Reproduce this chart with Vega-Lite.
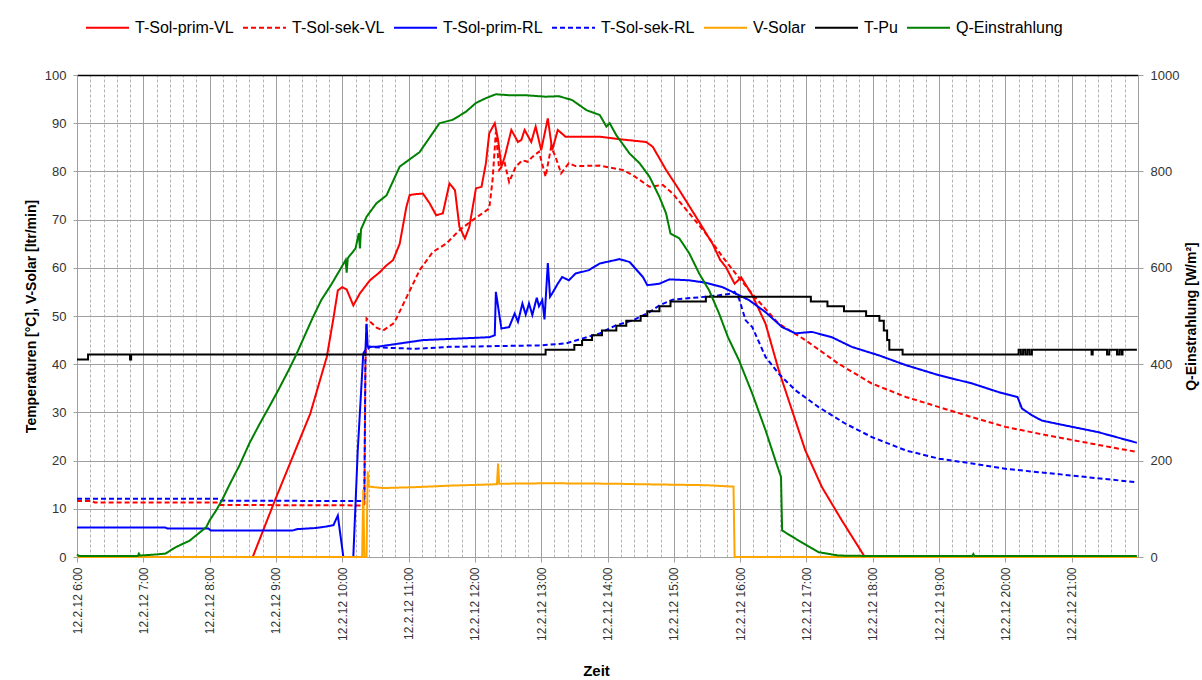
{
"$schema":"https://vega.github.io/schema/vega-lite/v6.json",
"width":1061,"height":482,
"autosize":{"type":"none"},
"padding":{"left":77,"top":75,"right":64,"bottom":123},
"background":"white",
"config":{"font":"Liberation Sans","view":{"stroke":"#A0A0A0"},"axis":{"labelFont":"Liberation Sans","titleFont":"Liberation Sans","labelColor":"#333","titleColor":"#000"}},
"layer":[
{"data":{"values":[
{"s":"T-Sol-prim-VL","t":"2012-02-12T08:39","v":0},{"s":"T-Sol-prim-VL","t":"2012-02-12T08:59","v":11.7},{"s":"T-Sol-prim-VL","t":"2012-02-12T09:15","v":20.7},{"s":"T-Sol-prim-VL","t":"2012-02-12T09:31","v":29.7},{"s":"T-Sol-prim-VL","t":"2012-02-12T09:46","v":41.5},{"s":"T-Sol-prim-VL","t":"2012-02-12T09:52","v":49.5},{"s":"T-Sol-prim-VL","t":"2012-02-12T09:56","v":55.3},{"s":"T-Sol-prim-VL","t":"2012-02-12T10:00","v":56},{"s":"T-Sol-prim-VL","t":"2012-02-12T10:04","v":55.5},{"s":"T-Sol-prim-VL","t":"2012-02-12T10:10","v":52.2},{"s":"T-Sol-prim-VL","t":"2012-02-12T10:16","v":54.7},{"s":"T-Sol-prim-VL","t":"2012-02-12T10:25","v":57.4},{"s":"T-Sol-prim-VL","t":"2012-02-12T10:34","v":59.1},{"s":"T-Sol-prim-VL","t":"2012-02-12T10:40","v":60.5},{"s":"T-Sol-prim-VL","t":"2012-02-12T10:46","v":61.6},{"s":"T-Sol-prim-VL","t":"2012-02-12T10:52","v":65},{"s":"T-Sol-prim-VL","t":"2012-02-12T10:58","v":72.6},{"s":"T-Sol-prim-VL","t":"2012-02-12T11:01","v":75.1},{"s":"T-Sol-prim-VL","t":"2012-02-12T11:07","v":75.3},{"s":"T-Sol-prim-VL","t":"2012-02-12T11:13","v":75.4},{"s":"T-Sol-prim-VL","t":"2012-02-12T11:19","v":73.4},{"s":"T-Sol-prim-VL","t":"2012-02-12T11:25","v":70.9},{"s":"T-Sol-prim-VL","t":"2012-02-12T11:31","v":71.3},{"s":"T-Sol-prim-VL","t":"2012-02-12T11:37","v":77.5},{"s":"T-Sol-prim-VL","t":"2012-02-12T11:42","v":76.1},{"s":"T-Sol-prim-VL","t":"2012-02-12T11:46","v":68.5},{"s":"T-Sol-prim-VL","t":"2012-02-12T11:51","v":66.1},{"s":"T-Sol-prim-VL","t":"2012-02-12T11:55","v":68.5},{"s":"T-Sol-prim-VL","t":"2012-02-12T12:01","v":76.5},{"s":"T-Sol-prim-VL","t":"2012-02-12T12:06","v":76.8},{"s":"T-Sol-prim-VL","t":"2012-02-12T12:10","v":81.7},{"s":"T-Sol-prim-VL","t":"2012-02-12T12:13","v":87.9},{"s":"T-Sol-prim-VL","t":"2012-02-12T12:18","v":90},{"s":"T-Sol-prim-VL","t":"2012-02-12T12:21","v":86.5},{"s":"T-Sol-prim-VL","t":"2012-02-12T12:24","v":81},{"s":"T-Sol-prim-VL","t":"2012-02-12T12:27","v":83},{"s":"T-Sol-prim-VL","t":"2012-02-12T12:33","v":88.6},{"s":"T-Sol-prim-VL","t":"2012-02-12T12:39","v":86.1},{"s":"T-Sol-prim-VL","t":"2012-02-12T12:42","v":86.5},{"s":"T-Sol-prim-VL","t":"2012-02-12T12:45","v":88.6},{"s":"T-Sol-prim-VL","t":"2012-02-12T12:51","v":86.1},{"s":"T-Sol-prim-VL","t":"2012-02-12T12:55","v":89.3},{"s":"T-Sol-prim-VL","t":"2012-02-12T13:00","v":84.4},{"s":"T-Sol-prim-VL","t":"2012-02-12T13:06","v":91},{"s":"T-Sol-prim-VL","t":"2012-02-12T13:10","v":84.4},{"s":"T-Sol-prim-VL","t":"2012-02-12T13:15","v":88.6},{"s":"T-Sol-prim-VL","t":"2012-02-12T13:22","v":87.2},{"s":"T-Sol-prim-VL","t":"2012-02-12T13:31","v":87.2},{"s":"T-Sol-prim-VL","t":"2012-02-12T13:53","v":87.2},{"s":"T-Sol-prim-VL","t":"2012-02-12T14:14","v":86.6},{"s":"T-Sol-prim-VL","t":"2012-02-12T14:35","v":86.1},{"s":"T-Sol-prim-VL","t":"2012-02-12T14:41","v":85.1},{"s":"T-Sol-prim-VL","t":"2012-02-12T14:53","v":80.3},{"s":"T-Sol-prim-VL","t":"2012-02-12T15:05","v":76.1},{"s":"T-Sol-prim-VL","t":"2012-02-12T15:20","v":70.6},{"s":"T-Sol-prim-VL","t":"2012-02-12T15:35","v":65},{"s":"T-Sol-prim-VL","t":"2012-02-12T15:42","v":61.6},{"s":"T-Sol-prim-VL","t":"2012-02-12T15:47","v":60.2},{"s":"T-Sol-prim-VL","t":"2012-02-12T15:55","v":56.7},{"s":"T-Sol-prim-VL","t":"2012-02-12T16:01","v":58},{"s":"T-Sol-prim-VL","t":"2012-02-12T16:11","v":54.3},{"s":"T-Sol-prim-VL","t":"2012-02-12T16:23","v":48.4},{"s":"T-Sol-prim-VL","t":"2012-02-12T16:35","v":38.7},{"s":"T-Sol-prim-VL","t":"2012-02-12T16:47","v":30.4},{"s":"T-Sol-prim-VL","t":"2012-02-12T16:59","v":22.1},{"s":"T-Sol-prim-VL","t":"2012-02-12T17:14","v":14.5},{"s":"T-Sol-prim-VL","t":"2012-02-12T17:32","v":7.6},{"s":"T-Sol-prim-VL","t":"2012-02-12T17:52","v":0.3},
{"s":"T-Sol-sek-VL","t":"2012-02-12T06:00","v":11.6},{"s":"T-Sol-sek-VL","t":"2012-02-12T06:14","v":11.6},{"s":"T-Sol-sek-VL","t":"2012-02-12T06:16","v":11.3},{"s":"T-Sol-sek-VL","t":"2012-02-12T08:08","v":11.3},{"s":"T-Sol-sek-VL","t":"2012-02-12T08:10","v":10.8},{"s":"T-Sol-sek-VL","t":"2012-02-12T10:19","v":10.7},{"s":"T-Sol-sek-VL","t":"2012-02-12T10:20","v":11},{"s":"T-Sol-sek-VL","t":"2012-02-12T10:21","v":40},{"s":"T-Sol-sek-VL","t":"2012-02-12T10:22","v":49.5},{"s":"T-Sol-sek-VL","t":"2012-02-12T10:31","v":47.6},{"s":"T-Sol-sek-VL","t":"2012-02-12T10:37","v":47},{"s":"T-Sol-sek-VL","t":"2012-02-12T10:46","v":48.4},{"s":"T-Sol-sek-VL","t":"2012-02-12T10:49","v":49.5},{"s":"T-Sol-sek-VL","t":"2012-02-12T10:58","v":53.8},{"s":"T-Sol-sek-VL","t":"2012-02-12T11:10","v":59.5},{"s":"T-Sol-sek-VL","t":"2012-02-12T11:22","v":63.3},{"s":"T-Sol-sek-VL","t":"2012-02-12T11:34","v":65},{"s":"T-Sol-sek-VL","t":"2012-02-12T11:46","v":67.8},{"s":"T-Sol-sek-VL","t":"2012-02-12T11:58","v":69.9},{"s":"T-Sol-sek-VL","t":"2012-02-12T12:13","v":72.3},{"s":"T-Sol-sek-VL","t":"2012-02-12T12:16","v":78.2},{"s":"T-Sol-sek-VL","t":"2012-02-12T12:19","v":88.2},{"s":"T-Sol-sek-VL","t":"2012-02-12T12:22","v":80.3},{"s":"T-Sol-sek-VL","t":"2012-02-12T12:27","v":81.7},{"s":"T-Sol-sek-VL","t":"2012-02-12T12:31","v":77.8},{"s":"T-Sol-sek-VL","t":"2012-02-12T12:37","v":81},{"s":"T-Sol-sek-VL","t":"2012-02-12T12:43","v":82.3},{"s":"T-Sol-sek-VL","t":"2012-02-12T12:48","v":82},{"s":"T-Sol-sek-VL","t":"2012-02-12T12:52","v":83},{"s":"T-Sol-sek-VL","t":"2012-02-12T12:58","v":84.1},{"s":"T-Sol-sek-VL","t":"2012-02-12T13:04","v":78.9},{"s":"T-Sol-sek-VL","t":"2012-02-12T13:09","v":85.1},{"s":"T-Sol-sek-VL","t":"2012-02-12T13:13","v":83},{"s":"T-Sol-sek-VL","t":"2012-02-12T13:18","v":79.6},{"s":"T-Sol-sek-VL","t":"2012-02-12T13:25","v":81.7},{"s":"T-Sol-sek-VL","t":"2012-02-12T13:31","v":81.1},{"s":"T-Sol-sek-VL","t":"2012-02-12T13:53","v":81.2},{"s":"T-Sol-sek-VL","t":"2012-02-12T14:14","v":80.3},{"s":"T-Sol-sek-VL","t":"2012-02-12T14:23","v":79.2},{"s":"T-Sol-sek-VL","t":"2012-02-12T14:38","v":76.8},{"s":"T-Sol-sek-VL","t":"2012-02-12T14:50","v":77.2},{"s":"T-Sol-sek-VL","t":"2012-02-12T14:59","v":75.4},{"s":"T-Sol-sek-VL","t":"2012-02-12T15:14","v":71.3},{"s":"T-Sol-sek-VL","t":"2012-02-12T15:29","v":67.1},{"s":"T-Sol-sek-VL","t":"2012-02-12T15:44","v":62.3},{"s":"T-Sol-sek-VL","t":"2012-02-12T15:56","v":58.8},{"s":"T-Sol-sek-VL","t":"2012-02-12T16:13","v":54},{"s":"T-Sol-sek-VL","t":"2012-02-12T16:35","v":48.4},{"s":"T-Sol-sek-VL","t":"2012-02-12T16:59","v":45},{"s":"T-Sol-sek-VL","t":"2012-02-12T17:29","v":40.1},{"s":"T-Sol-sek-VL","t":"2012-02-12T17:59","v":36},{"s":"T-Sol-sek-VL","t":"2012-02-12T18:30","v":33.2},{"s":"T-Sol-sek-VL","t":"2012-02-12T19:00","v":31.1},{"s":"T-Sol-sek-VL","t":"2012-02-12T19:30","v":29},{"s":"T-Sol-sek-VL","t":"2012-02-12T20:00","v":27},{"s":"T-Sol-sek-VL","t":"2012-02-12T20:30","v":25.6},{"s":"T-Sol-sek-VL","t":"2012-02-12T21:00","v":24.3},{"s":"T-Sol-sek-VL","t":"2012-02-12T21:30","v":23},{"s":"T-Sol-sek-VL","t":"2012-02-12T21:59","v":21.8},
{"s":"T-Sol-prim-RL","t":"2012-02-12T06:00","v":6.1},{"s":"T-Sol-prim-RL","t":"2012-02-12T07:20","v":6.1},{"s":"T-Sol-prim-RL","t":"2012-02-12T07:22","v":5.9},{"s":"T-Sol-prim-RL","t":"2012-02-12T07:59","v":5.9},{"s":"T-Sol-prim-RL","t":"2012-02-12T08:01","v":5.5},{"s":"T-Sol-prim-RL","t":"2012-02-12T09:15","v":5.5},{"s":"T-Sol-prim-RL","t":"2012-02-12T09:20","v":5.8},{"s":"T-Sol-prim-RL","t":"2012-02-12T09:35","v":6},{"s":"T-Sol-prim-RL","t":"2012-02-12T09:45","v":6.3},{"s":"T-Sol-prim-RL","t":"2012-02-12T09:52","v":6.6},{"s":"T-Sol-prim-RL","t":"2012-02-12T09:56","v":8.6},{"s":"T-Sol-prim-RL","t":"2012-02-12T10:01","v":0},{"s":"T-Sol-prim-RL","t":"2012-02-12T10:10","v":0},{"s":"T-Sol-prim-RL","t":"2012-02-12T10:14","v":22},{"s":"T-Sol-prim-RL","t":"2012-02-12T10:19","v":42.2},{"s":"T-Sol-prim-RL","t":"2012-02-12T10:21","v":43},{"s":"T-Sol-prim-RL","t":"2012-02-12T10:22","v":48.4},{"s":"T-Sol-prim-RL","t":"2012-02-12T10:23","v":43.6},{"s":"T-Sol-prim-RL","t":"2012-02-12T10:31","v":43.6},{"s":"T-Sol-prim-RL","t":"2012-02-12T10:52","v":44.3},{"s":"T-Sol-prim-RL","t":"2012-02-12T11:13","v":45},{"s":"T-Sol-prim-RL","t":"2012-02-12T11:43","v":45.3},{"s":"T-Sol-prim-RL","t":"2012-02-12T12:13","v":45.6},{"s":"T-Sol-prim-RL","t":"2012-02-12T12:18","v":46},{"s":"T-Sol-prim-RL","t":"2012-02-12T12:19","v":55},{"s":"T-Sol-prim-RL","t":"2012-02-12T12:24","v":47.4},{"s":"T-Sol-prim-RL","t":"2012-02-12T12:31","v":47.7},{"s":"T-Sol-prim-RL","t":"2012-02-12T12:36","v":50.5},{"s":"T-Sol-prim-RL","t":"2012-02-12T12:39","v":48.8},{"s":"T-Sol-prim-RL","t":"2012-02-12T12:43","v":52.6},{"s":"T-Sol-prim-RL","t":"2012-02-12T12:46","v":50.3},{"s":"T-Sol-prim-RL","t":"2012-02-12T12:49","v":52.6},{"s":"T-Sol-prim-RL","t":"2012-02-12T12:52","v":50.2},{"s":"T-Sol-prim-RL","t":"2012-02-12T12:56","v":53.8},{"s":"T-Sol-prim-RL","t":"2012-02-12T12:58","v":52},{"s":"T-Sol-prim-RL","t":"2012-02-12T13:01","v":53.3},{"s":"T-Sol-prim-RL","t":"2012-02-12T13:03","v":49.3},{"s":"T-Sol-prim-RL","t":"2012-02-12T13:06","v":61},{"s":"T-Sol-prim-RL","t":"2012-02-12T13:08","v":54},{"s":"T-Sol-prim-RL","t":"2012-02-12T13:10","v":54.7},{"s":"T-Sol-prim-RL","t":"2012-02-12T13:15","v":56.7},{"s":"T-Sol-prim-RL","t":"2012-02-12T13:19","v":58.1},{"s":"T-Sol-prim-RL","t":"2012-02-12T13:25","v":57.4},{"s":"T-Sol-prim-RL","t":"2012-02-12T13:31","v":58.8},{"s":"T-Sol-prim-RL","t":"2012-02-12T13:43","v":59.5},{"s":"T-Sol-prim-RL","t":"2012-02-12T13:53","v":60.9},{"s":"T-Sol-prim-RL","t":"2012-02-12T14:11","v":61.8},{"s":"T-Sol-prim-RL","t":"2012-02-12T14:20","v":61.2},{"s":"T-Sol-prim-RL","t":"2012-02-12T14:32","v":58.1},{"s":"T-Sol-prim-RL","t":"2012-02-12T14:36","v":56.4},{"s":"T-Sol-prim-RL","t":"2012-02-12T14:47","v":56.7},{"s":"T-Sol-prim-RL","t":"2012-02-12T14:56","v":57.6},{"s":"T-Sol-prim-RL","t":"2012-02-12T15:14","v":57.4},{"s":"T-Sol-prim-RL","t":"2012-02-12T15:29","v":56.9},{"s":"T-Sol-prim-RL","t":"2012-02-12T15:44","v":56},{"s":"T-Sol-prim-RL","t":"2012-02-12T15:53","v":55},{"s":"T-Sol-prim-RL","t":"2012-02-12T16:08","v":53.3},{"s":"T-Sol-prim-RL","t":"2012-02-12T16:23","v":50.8},{"s":"T-Sol-prim-RL","t":"2012-02-12T16:38","v":47.7},{"s":"T-Sol-prim-RL","t":"2012-02-12T16:50","v":46.4},{"s":"T-Sol-prim-RL","t":"2012-02-12T17:05","v":46.7},{"s":"T-Sol-prim-RL","t":"2012-02-12T17:23","v":45.6},{"s":"T-Sol-prim-RL","t":"2012-02-12T17:41","v":43.6},{"s":"T-Sol-prim-RL","t":"2012-02-12T18:06","v":41.8},{"s":"T-Sol-prim-RL","t":"2012-02-12T18:30","v":39.8},{"s":"T-Sol-prim-RL","t":"2012-02-12T19:00","v":37.7},{"s":"T-Sol-prim-RL","t":"2012-02-12T19:30","v":36},{"s":"T-Sol-prim-RL","t":"2012-02-12T19:54","v":34.2},{"s":"T-Sol-prim-RL","t":"2012-02-12T20:11","v":33.2},{"s":"T-Sol-prim-RL","t":"2012-02-12T20:15","v":30.8},{"s":"T-Sol-prim-RL","t":"2012-02-12T20:24","v":29.4},{"s":"T-Sol-prim-RL","t":"2012-02-12T20:33","v":28.3},{"s":"T-Sol-prim-RL","t":"2012-02-12T20:54","v":27.3},{"s":"T-Sol-prim-RL","t":"2012-02-12T21:24","v":25.9},{"s":"T-Sol-prim-RL","t":"2012-02-12T21:59","v":23.7},
{"s":"T-Sol-sek-RL","t":"2012-02-12T06:00","v":12.1},{"s":"T-Sol-sek-RL","t":"2012-02-12T08:08","v":12.1},{"s":"T-Sol-sek-RL","t":"2012-02-12T08:10","v":11.7},{"s":"T-Sol-sek-RL","t":"2012-02-12T10:19","v":11.6},{"s":"T-Sol-sek-RL","t":"2012-02-12T10:20","v":12},{"s":"T-Sol-sek-RL","t":"2012-02-12T10:21","v":42.5},{"s":"T-Sol-sek-RL","t":"2012-02-12T10:25","v":43.6},{"s":"T-Sol-sek-RL","t":"2012-02-12T10:40","v":43.4},{"s":"T-Sol-sek-RL","t":"2012-02-12T11:07","v":43.2},{"s":"T-Sol-sek-RL","t":"2012-02-12T11:37","v":43.6},{"s":"T-Sol-sek-RL","t":"2012-02-12T12:58","v":43.9},{"s":"T-Sol-sek-RL","t":"2012-02-12T13:22","v":44.3},{"s":"T-Sol-sek-RL","t":"2012-02-12T13:37","v":45.3},{"s":"T-Sol-sek-RL","t":"2012-02-12T13:53","v":46.4},{"s":"T-Sol-sek-RL","t":"2012-02-12T14:08","v":48.1},{"s":"T-Sol-sek-RL","t":"2012-02-12T14:23","v":49.1},{"s":"T-Sol-sek-RL","t":"2012-02-12T14:38","v":50.8},{"s":"T-Sol-sek-RL","t":"2012-02-12T14:47","v":52.2},{"s":"T-Sol-sek-RL","t":"2012-02-12T14:59","v":53.4},{"s":"T-Sol-sek-RL","t":"2012-02-12T15:29","v":54},{"s":"T-Sol-sek-RL","t":"2012-02-12T15:41","v":54.3},{"s":"T-Sol-sek-RL","t":"2012-02-12T15:53","v":54.7},{"s":"T-Sol-sek-RL","t":"2012-02-12T15:55","v":55},{"s":"T-Sol-sek-RL","t":"2012-02-12T15:59","v":53.6},{"s":"T-Sol-sek-RL","t":"2012-02-12T16:05","v":49.1},{"s":"T-Sol-sek-RL","t":"2012-02-12T16:11","v":47.7},{"s":"T-Sol-sek-RL","t":"2012-02-12T16:23","v":41.5},{"s":"T-Sol-sek-RL","t":"2012-02-12T16:35","v":38},{"s":"T-Sol-sek-RL","t":"2012-02-12T16:50","v":34.6},{"s":"T-Sol-sek-RL","t":"2012-02-12T17:11","v":31.1},{"s":"T-Sol-sek-RL","t":"2012-02-12T17:35","v":27.7},{"s":"T-Sol-sek-RL","t":"2012-02-12T17:59","v":24.9},{"s":"T-Sol-sek-RL","t":"2012-02-12T18:30","v":22.1},{"s":"T-Sol-sek-RL","t":"2012-02-12T19:00","v":20.4},{"s":"T-Sol-sek-RL","t":"2012-02-12T19:30","v":19.4},{"s":"T-Sol-sek-RL","t":"2012-02-12T20:00","v":18.3},{"s":"T-Sol-sek-RL","t":"2012-02-12T20:30","v":17.6},{"s":"T-Sol-sek-RL","t":"2012-02-12T21:00","v":16.9},{"s":"T-Sol-sek-RL","t":"2012-02-12T21:59","v":15.5},
{"s":"V-Solar","t":"2012-02-12T06:00","v":0},{"s":"V-Solar","t":"2012-02-12T10:18","v":0},{"s":"V-Solar","t":"2012-02-12T10:19","v":14},{"s":"V-Solar","t":"2012-02-12T10:20","v":0},{"s":"V-Solar","t":"2012-02-12T10:22","v":0},{"s":"V-Solar","t":"2012-02-12T10:23","v":17.8},{"s":"V-Solar","t":"2012-02-12T10:24","v":14.6},{"s":"V-Solar","t":"2012-02-12T10:37","v":14.3},{"s":"V-Solar","t":"2012-02-12T11:07","v":14.5},{"s":"V-Solar","t":"2012-02-12T11:37","v":14.8},{"s":"V-Solar","t":"2012-02-12T12:07","v":15},{"s":"V-Solar","t":"2012-02-12T12:20","v":15.1},{"s":"V-Solar","t":"2012-02-12T12:21","v":19.4},{"s":"V-Solar","t":"2012-02-12T12:22","v":15.2},{"s":"V-Solar","t":"2012-02-12T13:07","v":15.3},{"s":"V-Solar","t":"2012-02-12T14:08","v":15.2},{"s":"V-Solar","t":"2012-02-12T14:29","v":15.1},{"s":"V-Solar","t":"2012-02-12T15:29","v":14.9},{"s":"V-Solar","t":"2012-02-12T15:54","v":14.6},{"s":"V-Solar","t":"2012-02-12T15:55","v":0},{"s":"V-Solar","t":"2012-02-12T21:59","v":0}
]},
"mark":{"type":"line","strokeWidth":2},
"encoding":{
"x":{"field":"t","type":"temporal","scale":{"domain":[{"year":2012,"month":2,"date":12,"hours":6},{"year":2012,"month":2,"date":12,"hours":22}]},
"axis":{"values":[{"year":2012,"month":2,"date":12,"hours":6},{"year":2012,"month":2,"date":12,"hours":7},{"year":2012,"month":2,"date":12,"hours":8},{"year":2012,"month":2,"date":12,"hours":9},{"year":2012,"month":2,"date":12,"hours":10},{"year":2012,"month":2,"date":12,"hours":11},{"year":2012,"month":2,"date":12,"hours":12},{"year":2012,"month":2,"date":12,"hours":13},{"year":2012,"month":2,"date":12,"hours":14},{"year":2012,"month":2,"date":12,"hours":15},{"year":2012,"month":2,"date":12,"hours":16},{"year":2012,"month":2,"date":12,"hours":17},{"year":2012,"month":2,"date":12,"hours":18},{"year":2012,"month":2,"date":12,"hours":19},{"year":2012,"month":2,"date":12,"hours":20},{"year":2012,"month":2,"date":12,"hours":21}],"format":"%-d.%-m.%y %-H:%M","labelAngle":270,"labelFontSize":12,"labelPadding":5,"tickSize":5,"tickColor":"#A0A0A0","domainColor":"#A0A0A0","grid":true,"gridColor":"#A0A0A0","title":"Zeit","titleFontSize":15,"titleFontWeight":"bold","titlePadding":23,"titleX":519}},
"y":{"field":"v","type":"quantitative","scale":{"domain":[0,100]},
"axis":{"values":[0,10,20,30,40,50,60,70,80,90,100],"title":"Temperaturen [°C], V-Solar [ltr/min]","titleFontSize":14,"titleFontWeight":"bold","titlePadding":6,"labelFontSize":13,"labelPadding":7,"tickSize":4,"tickColor":"#A0A0A0","domainColor":"#A0A0A0","grid":true,"gridColor":"#A0A0A0"}},
"color":{"field":"s","type":"nominal","scale":{"domain":["T-Sol-prim-VL","T-Sol-sek-VL","T-Sol-prim-RL","T-Sol-sek-RL","V-Solar","T-Pu","Q-Einstrahlung"],"range":["#FF0000","#FF0000","#0000FF","#0000FF","#FFA500","#000000","#008000"]},
"legend":{"orient":"none","legendX":8,"legendY":-70,"direction":"horizontal","title":null,"symbolType":"stroke","symbolSize":1849,"symbolStrokeWidth":2,"labelFontSize":16,"labelColor":"#000","labelOffset":5,"columnPadding":5}},
"strokeDash":{"field":"s","type":"nominal","scale":{"domain":["T-Sol-prim-VL","T-Sol-sek-VL","T-Sol-prim-RL","T-Sol-sek-RL","V-Solar","T-Pu","Q-Einstrahlung"],"range":[[1,0],[5,3],[1,0],[5,3],[1,0],[1,0],[1,0]]},
"legend":{"orient":"none","legendX":8,"legendY":-70,"direction":"horizontal","title":null,"symbolType":"stroke","symbolSize":1849,"symbolStrokeWidth":2,"labelFontSize":16,"labelColor":"#000","labelOffset":5,"columnPadding":5}}
}},
{"data":{"values":[
{"s":"T-Pu","t":"2012-02-12T06:00","v":41},{"s":"T-Pu","t":"2012-02-12T06:10","v":42},{"s":"T-Pu","t":"2012-02-12T06:48","v":41},{"s":"T-Pu","t":"2012-02-12T06:49","v":42},{"s":"T-Pu","t":"2012-02-12T13:04","v":43},{"s":"T-Pu","t":"2012-02-12T13:30","v":44},{"s":"T-Pu","t":"2012-02-12T13:37","v":45},{"s":"T-Pu","t":"2012-02-12T13:46","v":46},{"s":"T-Pu","t":"2012-02-12T13:55","v":47},{"s":"T-Pu","t":"2012-02-12T14:08","v":48},{"s":"T-Pu","t":"2012-02-12T14:17","v":49},{"s":"T-Pu","t":"2012-02-12T14:30","v":50},{"s":"T-Pu","t":"2012-02-12T14:36","v":51},{"s":"T-Pu","t":"2012-02-12T14:47","v":52},{"s":"T-Pu","t":"2012-02-12T14:57","v":53},{"s":"T-Pu","t":"2012-02-12T15:29","v":54},{"s":"T-Pu","t":"2012-02-12T17:04","v":53},{"s":"T-Pu","t":"2012-02-12T17:19","v":52},{"s":"T-Pu","t":"2012-02-12T17:34","v":51},{"s":"T-Pu","t":"2012-02-12T17:54","v":50},{"s":"T-Pu","t":"2012-02-12T18:06","v":49},{"s":"T-Pu","t":"2012-02-12T18:10","v":47},{"s":"T-Pu","t":"2012-02-12T18:13","v":45},{"s":"T-Pu","t":"2012-02-12T18:15","v":43},{"s":"T-Pu","t":"2012-02-12T18:27","v":42},{"s":"T-Pu","t":"2012-02-12T20:12","v":43},{"s":"T-Pu","t":"2012-02-12T20:14","v":42},{"s":"T-Pu","t":"2012-02-12T20:16","v":43},{"s":"T-Pu","t":"2012-02-12T20:18","v":42},{"s":"T-Pu","t":"2012-02-12T20:20","v":43},{"s":"T-Pu","t":"2012-02-12T20:22","v":42},{"s":"T-Pu","t":"2012-02-12T20:24","v":43},{"s":"T-Pu","t":"2012-02-12T21:18","v":42},{"s":"T-Pu","t":"2012-02-12T21:19","v":43},{"s":"T-Pu","t":"2012-02-12T21:32","v":42},{"s":"T-Pu","t":"2012-02-12T21:34","v":43},{"s":"T-Pu","t":"2012-02-12T21:41","v":42},{"s":"T-Pu","t":"2012-02-12T21:43","v":43},{"s":"T-Pu","t":"2012-02-12T21:45","v":42},{"s":"T-Pu","t":"2012-02-12T21:46","v":43},{"s":"T-Pu","t":"2012-02-12T21:59","v":43}
]},
"mark":{"type":"line","strokeWidth":2,"interpolate":"step-after"},
"encoding":{
"x":{"field":"t","type":"temporal","axis":null},
"y":{"field":"v","type":"quantitative","scale":{"domain":[0,100]},"axis":null},
"color":{"field":"s","type":"nominal"},
"strokeDash":{"field":"s","type":"nominal"}
}},
{"data":{"values":[
{"s":"Q-Einstrahlung","t":"2012-02-12T06:00","v":5},{"s":"Q-Einstrahlung","t":"2012-02-12T06:02","v":2},{"s":"Q-Einstrahlung","t":"2012-02-12T06:21","v":2},{"s":"Q-Einstrahlung","t":"2012-02-12T06:55","v":2},{"s":"Q-Einstrahlung","t":"2012-02-12T06:56","v":7},{"s":"Q-Einstrahlung","t":"2012-02-12T06:57","v":3},{"s":"Q-Einstrahlung","t":"2012-02-12T07:10","v":5},{"s":"Q-Einstrahlung","t":"2012-02-12T07:20","v":7},{"s":"Q-Einstrahlung","t":"2012-02-12T07:29","v":20},{"s":"Q-Einstrahlung","t":"2012-02-12T07:42","v":34},{"s":"Q-Einstrahlung","t":"2012-02-12T07:50","v":49},{"s":"Q-Einstrahlung","t":"2012-02-12T07:57","v":62},{"s":"Q-Einstrahlung","t":"2012-02-12T08:00","v":76},{"s":"Q-Einstrahlung","t":"2012-02-12T08:06","v":97},{"s":"Q-Einstrahlung","t":"2012-02-12T08:11","v":117},{"s":"Q-Einstrahlung","t":"2012-02-12T08:18","v":150},{"s":"Q-Einstrahlung","t":"2012-02-12T08:27","v":190},{"s":"Q-Einstrahlung","t":"2012-02-12T08:36","v":236},{"s":"Q-Einstrahlung","t":"2012-02-12T08:45","v":275},{"s":"Q-Einstrahlung","t":"2012-02-12T08:54","v":312},{"s":"Q-Einstrahlung","t":"2012-02-12T09:03","v":350},{"s":"Q-Einstrahlung","t":"2012-02-12T09:12","v":390},{"s":"Q-Einstrahlung","t":"2012-02-12T09:18","v":418},{"s":"Q-Einstrahlung","t":"2012-02-12T09:33","v":495},{"s":"Q-Einstrahlung","t":"2012-02-12T09:41","v":533},{"s":"Q-Einstrahlung","t":"2012-02-12T09:50","v":565},{"s":"Q-Einstrahlung","t":"2012-02-12T09:59","v":600},{"s":"Q-Einstrahlung","t":"2012-02-12T10:03","v":616},{"s":"Q-Einstrahlung","t":"2012-02-12T10:04","v":590},{"s":"Q-Einstrahlung","t":"2012-02-12T10:05","v":620},{"s":"Q-Einstrahlung","t":"2012-02-12T10:12","v":640},{"s":"Q-Einstrahlung","t":"2012-02-12T10:15","v":672},{"s":"Q-Einstrahlung","t":"2012-02-12T10:16","v":640},{"s":"Q-Einstrahlung","t":"2012-02-12T10:17","v":680},{"s":"Q-Einstrahlung","t":"2012-02-12T10:22","v":706},{"s":"Q-Einstrahlung","t":"2012-02-12T10:31","v":734},{"s":"Q-Einstrahlung","t":"2012-02-12T10:40","v":750},{"s":"Q-Einstrahlung","t":"2012-02-12T10:52","v":810},{"s":"Q-Einstrahlung","t":"2012-02-12T11:04","v":830},{"s":"Q-Einstrahlung","t":"2012-02-12T11:10","v":840},{"s":"Q-Einstrahlung","t":"2012-02-12T11:22","v":880},{"s":"Q-Einstrahlung","t":"2012-02-12T11:28","v":900},{"s":"Q-Einstrahlung","t":"2012-02-12T11:40","v":907},{"s":"Q-Einstrahlung","t":"2012-02-12T11:52","v":924},{"s":"Q-Einstrahlung","t":"2012-02-12T12:01","v":942},{"s":"Q-Einstrahlung","t":"2012-02-12T12:10","v":952},{"s":"Q-Einstrahlung","t":"2012-02-12T12:19","v":960},{"s":"Q-Einstrahlung","t":"2012-02-12T12:31","v":958},{"s":"Q-Einstrahlung","t":"2012-02-12T12:46","v":958},{"s":"Q-Einstrahlung","t":"2012-02-12T13:04","v":955},{"s":"Q-Einstrahlung","t":"2012-02-12T13:16","v":956},{"s":"Q-Einstrahlung","t":"2012-02-12T13:28","v":948},{"s":"Q-Einstrahlung","t":"2012-02-12T13:41","v":927},{"s":"Q-Einstrahlung","t":"2012-02-12T13:53","v":917},{"s":"Q-Einstrahlung","t":"2012-02-12T13:59","v":893},{"s":"Q-Einstrahlung","t":"2012-02-12T14:02","v":900},{"s":"Q-Einstrahlung","t":"2012-02-12T14:08","v":875},{"s":"Q-Einstrahlung","t":"2012-02-12T14:20","v":837},{"s":"Q-Einstrahlung","t":"2012-02-12T14:29","v":817},{"s":"Q-Einstrahlung","t":"2012-02-12T14:38","v":789},{"s":"Q-Einstrahlung","t":"2012-02-12T14:47","v":747},{"s":"Q-Einstrahlung","t":"2012-02-12T14:53","v":713},{"s":"Q-Einstrahlung","t":"2012-02-12T14:57","v":671},{"s":"Q-Einstrahlung","t":"2012-02-12T15:05","v":661},{"s":"Q-Einstrahlung","t":"2012-02-12T15:14","v":630},{"s":"Q-Einstrahlung","t":"2012-02-12T15:23","v":588},{"s":"Q-Einstrahlung","t":"2012-02-12T15:32","v":553},{"s":"Q-Einstrahlung","t":"2012-02-12T15:41","v":505},{"s":"Q-Einstrahlung","t":"2012-02-12T15:49","v":456},{"s":"Q-Einstrahlung","t":"2012-02-12T15:59","v":408},{"s":"Q-Einstrahlung","t":"2012-02-12T16:11","v":339},{"s":"Q-Einstrahlung","t":"2012-02-12T16:23","v":263},{"s":"Q-Einstrahlung","t":"2012-02-12T16:32","v":200},{"s":"Q-Einstrahlung","t":"2012-02-12T16:37","v":166},{"s":"Q-Einstrahlung","t":"2012-02-12T16:38","v":55},{"s":"Q-Einstrahlung","t":"2012-02-12T16:53","v":34},{"s":"Q-Einstrahlung","t":"2012-02-12T17:11","v":10},{"s":"Q-Einstrahlung","t":"2012-02-12T17:29","v":3},{"s":"Q-Einstrahlung","t":"2012-02-12T18:00","v":2},{"s":"Q-Einstrahlung","t":"2012-02-12T19:30","v":2},{"s":"Q-Einstrahlung","t":"2012-02-12T19:31","v":6},{"s":"Q-Einstrahlung","t":"2012-02-12T19:32","v":2},{"s":"Q-Einstrahlung","t":"2012-02-12T21:59","v":2}
]},
"mark":{"type":"line","strokeWidth":2},
"encoding":{
"x":{"field":"t","type":"temporal","axis":{"orient":"top","labels":false,"ticks":false,"domain":true,"domainColor":"#000000","domainWidth":1.5,"grid":true,"gridDash":[3,2],"gridColor":"#B4B4B4","title":null,
"values":[{"year":2012,"month":2,"date":12,"hours":6,"minutes":12},{"year":2012,"month":2,"date":12,"hours":6,"minutes":24},{"year":2012,"month":2,"date":12,"hours":6,"minutes":36},{"year":2012,"month":2,"date":12,"hours":6,"minutes":48},{"year":2012,"month":2,"date":12,"hours":7,"minutes":12},{"year":2012,"month":2,"date":12,"hours":7,"minutes":24},{"year":2012,"month":2,"date":12,"hours":7,"minutes":36},{"year":2012,"month":2,"date":12,"hours":7,"minutes":48},{"year":2012,"month":2,"date":12,"hours":8,"minutes":12},{"year":2012,"month":2,"date":12,"hours":8,"minutes":24},{"year":2012,"month":2,"date":12,"hours":8,"minutes":36},{"year":2012,"month":2,"date":12,"hours":8,"minutes":48},{"year":2012,"month":2,"date":12,"hours":9,"minutes":12},{"year":2012,"month":2,"date":12,"hours":9,"minutes":24},{"year":2012,"month":2,"date":12,"hours":9,"minutes":36},{"year":2012,"month":2,"date":12,"hours":9,"minutes":48},{"year":2012,"month":2,"date":12,"hours":10,"minutes":12},{"year":2012,"month":2,"date":12,"hours":10,"minutes":24},{"year":2012,"month":2,"date":12,"hours":10,"minutes":36},{"year":2012,"month":2,"date":12,"hours":10,"minutes":48},{"year":2012,"month":2,"date":12,"hours":11,"minutes":12},{"year":2012,"month":2,"date":12,"hours":11,"minutes":24},{"year":2012,"month":2,"date":12,"hours":11,"minutes":36},{"year":2012,"month":2,"date":12,"hours":11,"minutes":48},{"year":2012,"month":2,"date":12,"hours":12,"minutes":12},{"year":2012,"month":2,"date":12,"hours":12,"minutes":24},{"year":2012,"month":2,"date":12,"hours":12,"minutes":36},{"year":2012,"month":2,"date":12,"hours":12,"minutes":48},{"year":2012,"month":2,"date":12,"hours":13,"minutes":12},{"year":2012,"month":2,"date":12,"hours":13,"minutes":24},{"year":2012,"month":2,"date":12,"hours":13,"minutes":36},{"year":2012,"month":2,"date":12,"hours":13,"minutes":48},{"year":2012,"month":2,"date":12,"hours":14,"minutes":12},{"year":2012,"month":2,"date":12,"hours":14,"minutes":24},{"year":2012,"month":2,"date":12,"hours":14,"minutes":36},{"year":2012,"month":2,"date":12,"hours":14,"minutes":48},{"year":2012,"month":2,"date":12,"hours":15,"minutes":12},{"year":2012,"month":2,"date":12,"hours":15,"minutes":24},{"year":2012,"month":2,"date":12,"hours":15,"minutes":36},{"year":2012,"month":2,"date":12,"hours":15,"minutes":48},{"year":2012,"month":2,"date":12,"hours":16,"minutes":12},{"year":2012,"month":2,"date":12,"hours":16,"minutes":24},{"year":2012,"month":2,"date":12,"hours":16,"minutes":36},{"year":2012,"month":2,"date":12,"hours":16,"minutes":48},{"year":2012,"month":2,"date":12,"hours":17,"minutes":12},{"year":2012,"month":2,"date":12,"hours":17,"minutes":24},{"year":2012,"month":2,"date":12,"hours":17,"minutes":36},{"year":2012,"month":2,"date":12,"hours":17,"minutes":48},{"year":2012,"month":2,"date":12,"hours":18,"minutes":12},{"year":2012,"month":2,"date":12,"hours":18,"minutes":24},{"year":2012,"month":2,"date":12,"hours":18,"minutes":36},{"year":2012,"month":2,"date":12,"hours":18,"minutes":48},{"year":2012,"month":2,"date":12,"hours":19,"minutes":12},{"year":2012,"month":2,"date":12,"hours":19,"minutes":24},{"year":2012,"month":2,"date":12,"hours":19,"minutes":36},{"year":2012,"month":2,"date":12,"hours":19,"minutes":48},{"year":2012,"month":2,"date":12,"hours":20,"minutes":12},{"year":2012,"month":2,"date":12,"hours":20,"minutes":24},{"year":2012,"month":2,"date":12,"hours":20,"minutes":36},{"year":2012,"month":2,"date":12,"hours":20,"minutes":48},{"year":2012,"month":2,"date":12,"hours":21,"minutes":12},{"year":2012,"month":2,"date":12,"hours":21,"minutes":24},{"year":2012,"month":2,"date":12,"hours":21,"minutes":36},{"year":2012,"month":2,"date":12,"hours":21,"minutes":48}]}},
"y":{"field":"v","type":"quantitative","scale":{"domain":[0,1000]},
"axis":{"orient":"right","values":[0,200,400,600,800,1000],"format":"d","grid":false,"title":"Q-Einstrahlung [W/m²]","titleAngle":270,"titleBaseline":"top","titleFontSize":14,"titleFontWeight":"bold","titlePadding":6,"labelFontSize":13,"labelPadding":7,"tickSize":5,"tickColor":"#A0A0A0","domainColor":"#A0A0A0"}},
"color":{"field":"s","type":"nominal"},
"strokeDash":{"field":"s","type":"nominal"}
}}
],
"resolve":{"scale":{"y":"independent"},"axis":{"x":"independent"}}
}
